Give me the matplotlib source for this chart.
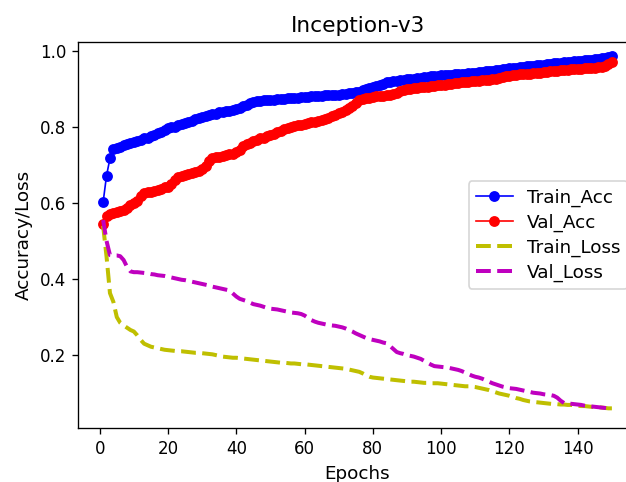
import matplotlib
matplotlib.use('Agg')
import matplotlib.pyplot as plt

# values, epochs 1..150
epochs = list(range(1, 151))

train_acc = [
    0.602, 0.672, 0.717, 0.741, 0.745, 0.748, 0.752, 0.755, 0.757, 0.760,
    0.763, 0.766, 0.770, 0.772, 0.776, 0.778, 0.783, 0.786, 0.792, 0.797,
    0.800, 0.801, 0.805, 0.808, 0.810, 0.814, 0.816, 0.820, 0.823, 0.826,
    0.829, 0.830, 0.834, 0.835, 0.838, 0.840, 0.841, 0.843, 0.845, 0.846,
    0.850, 0.854, 0.858, 0.862, 0.866, 0.868, 0.869, 0.870, 0.871, 0.872,
    0.872, 0.873, 0.874, 0.874, 0.875, 0.876, 0.876, 0.877, 0.878, 0.878,
    0.879, 0.880, 0.880, 0.881, 0.882, 0.883, 0.883, 0.884, 0.884, 0.885,
    0.886, 0.887, 0.888, 0.889, 0.891, 0.893, 0.896, 0.899, 0.902, 0.905,
    0.908, 0.911, 0.914, 0.917, 0.919, 0.920, 0.921, 0.922, 0.924, 0.925,
    0.926, 0.927, 0.928, 0.929, 0.931, 0.932, 0.933, 0.934, 0.935, 0.936,
    0.936, 0.937, 0.937, 0.938, 0.938, 0.939, 0.940, 0.941, 0.942, 0.943,
    0.944, 0.945, 0.946, 0.947, 0.948, 0.949, 0.950, 0.952, 0.953, 0.954,
    0.955, 0.956, 0.957, 0.958, 0.959, 0.960, 0.961, 0.962, 0.963, 0.964,
    0.965, 0.966, 0.967, 0.968, 0.969, 0.970, 0.970, 0.971, 0.972, 0.973,
    0.974, 0.975, 0.976, 0.977, 0.978, 0.979, 0.980, 0.982, 0.984, 0.986,
]

val_acc = [
    0.545, 0.565, 0.570, 0.573, 0.576, 0.578, 0.582, 0.588, 0.594, 0.600,
    0.606, 0.618, 0.626, 0.628, 0.630, 0.632, 0.635, 0.638, 0.641, 0.643,
    0.650, 0.660, 0.668, 0.670, 0.673, 0.676, 0.679, 0.682, 0.685, 0.688,
    0.698, 0.710, 0.718, 0.720, 0.722, 0.724, 0.726, 0.728, 0.730, 0.733,
    0.740, 0.750, 0.754, 0.758, 0.762, 0.766, 0.770, 0.772, 0.775, 0.778,
    0.782, 0.786, 0.790, 0.794, 0.797, 0.800, 0.802, 0.804, 0.806, 0.808,
    0.810, 0.812, 0.814, 0.816, 0.818, 0.821, 0.824, 0.828, 0.832, 0.836,
    0.840, 0.845, 0.850, 0.854, 0.862, 0.870, 0.873, 0.875, 0.877, 0.879,
    0.880, 0.881, 0.882, 0.883, 0.884, 0.886, 0.890, 0.894, 0.897, 0.899,
    0.900, 0.902, 0.903, 0.904, 0.905, 0.906, 0.907, 0.908, 0.909, 0.910,
    0.911, 0.913, 0.914, 0.915, 0.916, 0.917, 0.918, 0.919, 0.920, 0.921,
    0.921, 0.922, 0.923, 0.923, 0.925, 0.927, 0.929, 0.931, 0.933, 0.935,
    0.936, 0.937, 0.938, 0.939, 0.940, 0.940, 0.941, 0.942, 0.943, 0.944,
    0.945, 0.946, 0.947, 0.948, 0.949, 0.950, 0.950, 0.951, 0.952, 0.953,
    0.953, 0.954, 0.954, 0.955, 0.956, 0.957, 0.958, 0.961, 0.965, 0.971,
]

train_loss = [
    0.540, 0.459, 0.363, 0.340, 0.300, 0.285, 0.278, 0.272, 0.266, 0.262,
    0.252, 0.240, 0.230, 0.226, 0.222, 0.220, 0.218, 0.216, 0.214, 0.213,
    0.212, 0.211, 0.210, 0.210, 0.209, 0.208, 0.207, 0.206, 0.206, 0.205,
    0.204, 0.203, 0.202, 0.200, 0.198, 0.196, 0.195, 0.194, 0.193, 0.193,
    0.192, 0.191, 0.190, 0.189, 0.188, 0.187, 0.186, 0.185, 0.184, 0.183,
    0.182, 0.181, 0.180, 0.180, 0.179, 0.178, 0.178, 0.177, 0.176, 0.176,
    0.175, 0.174, 0.173, 0.172, 0.171, 0.170, 0.169, 0.168, 0.167, 0.166,
    0.165, 0.164, 0.162, 0.160, 0.158, 0.156, 0.152, 0.147, 0.143, 0.141,
    0.140, 0.139, 0.138, 0.137, 0.136, 0.135, 0.134, 0.133, 0.132, 0.131,
    0.130, 0.130, 0.129, 0.128, 0.127, 0.127, 0.126, 0.126, 0.126, 0.125,
    0.124, 0.123, 0.122, 0.121, 0.120, 0.119, 0.118, 0.118, 0.117, 0.116,
    0.114, 0.112, 0.110, 0.108, 0.105, 0.102, 0.099, 0.097, 0.095, 0.093,
    0.090, 0.087, 0.085, 0.082, 0.080, 0.078, 0.077, 0.076, 0.075, 0.074,
    0.073, 0.072, 0.071, 0.071, 0.070, 0.070, 0.069, 0.069, 0.068, 0.067,
    0.066, 0.066, 0.065, 0.064, 0.063, 0.063, 0.062, 0.061, 0.060, 0.060,
]

val_loss = [
    0.555, 0.500, 0.463, 0.462, 0.462, 0.460, 0.450, 0.432, 0.420, 0.418,
    0.418, 0.417, 0.416, 0.415, 0.413, 0.412, 0.410, 0.409, 0.408, 0.406,
    0.404, 0.402, 0.400, 0.398, 0.397, 0.395, 0.393, 0.391, 0.389, 0.387,
    0.385, 0.383, 0.380, 0.378, 0.376, 0.374, 0.372, 0.370, 0.362, 0.354,
    0.348, 0.345, 0.342, 0.338, 0.334, 0.332, 0.330, 0.327, 0.324, 0.322,
    0.321, 0.320, 0.318, 0.316, 0.314, 0.312, 0.311, 0.310, 0.308, 0.304,
    0.298, 0.292, 0.288, 0.285, 0.283, 0.281, 0.279, 0.278, 0.277, 0.275,
    0.273, 0.270, 0.266, 0.262, 0.257, 0.253, 0.249, 0.245, 0.242, 0.240,
    0.238, 0.236, 0.233, 0.231, 0.224, 0.216, 0.208, 0.205, 0.203, 0.200,
    0.198, 0.196, 0.193, 0.190, 0.185, 0.180, 0.175, 0.171, 0.170, 0.169,
    0.168, 0.167, 0.165, 0.163, 0.161, 0.158, 0.154, 0.150, 0.146, 0.143,
    0.141, 0.138, 0.134, 0.130, 0.126, 0.123, 0.120, 0.117, 0.115, 0.113,
    0.112, 0.111, 0.109, 0.107, 0.105, 0.103, 0.101, 0.100, 0.099, 0.097,
    0.096, 0.095, 0.093, 0.088, 0.080, 0.074, 0.073, 0.072, 0.071, 0.070,
    0.069, 0.067, 0.066, 0.065, 0.064, 0.063, 0.062, 0.061, 0.060, 0.059,
]


def main():
    fig = plt.figure(figsize=(626 / 120, 482 / 120), dpi=120)
    # the reference is cropped on the right, so the axes run past the edge
    ax = fig.add_axes([0.1241, 0.111, 0.894, 0.8025])

    ax.plot(epochs, train_acc, 'b-o', lw=1, markersize=5.5, label='Train_Acc')
    ax.plot(epochs, val_acc, 'r-o', lw=1, markersize=5.5, label='Val_Acc')
    ax.plot(epochs, train_loss, 'y--', lw=2.4, label='Train_Loss')
    ax.plot(epochs, val_loss, 'm--', lw=2.4, label='Val_Loss')

    ax.set_ylim(0.007, 1.024)
    ax.set_title('Inception-v3', fontsize=13)
    ax.set_xlabel('Epochs', fontsize=11)
    ax.set_ylabel('Accuracy/Loss', fontsize=11)
    ax.legend(loc='center right', fontsize=11, labelspacing=0.37)

    fig.savefig('out.png', dpi=120)


if __name__ == '__main__':
    main()
